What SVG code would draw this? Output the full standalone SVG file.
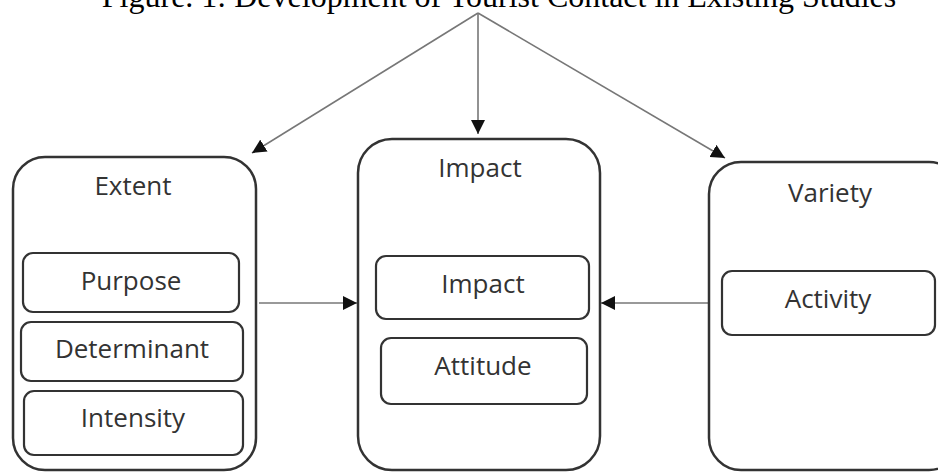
<svg xmlns="http://www.w3.org/2000/svg" width="938" height="472" viewBox="0 0 938 472">
<style>
.box{fill:#fff;stroke:#333;stroke-width:2.5}
.inner{fill:#fff;stroke:#333;stroke-width:2.2}
.lbl{font-family:"Open Sans","Noto Sans",sans-serif;font-size:26px;fill:#333;text-anchor:middle}
.title{font-family:"Liberation Serif",serif;font-size:32px;fill:#000;text-anchor:middle}
.conn{stroke:#777;stroke-width:1.6;fill:none}
</style>
<defs>
<marker id="ah" viewBox="0 0 10 10" refX="10" refY="5" markerWidth="14" markerHeight="14" markerUnits="userSpaceOnUse" orient="auto">
<path d="M0,0 L10,5 L0,10 z" fill="#111"/>
</marker>
</defs>
<rect width="938" height="472" fill="#fff"/>
<text class="title" x="499" y="7">Figure. 1: Development of Tourist Contact in Existing Studies</text>
<g id="connectors">
<line class="conn" x1="478" y1="13" x2="252" y2="153" marker-end="url(#ah)"/>
<line class="conn" x1="478" y1="13" x2="478" y2="134" marker-end="url(#ah)"/>
<line class="conn" x1="478" y1="13" x2="725" y2="158" marker-end="url(#ah)"/>
<line class="conn" x1="259" y1="303" x2="357" y2="303" marker-end="url(#ah)"/>
<line class="conn" x1="709" y1="303" x2="601" y2="303" marker-end="url(#ah)"/>
</g>
<g id="extent">
<rect class="box" x="13" y="157" width="243" height="313" rx="32"/>
<text class="lbl" x="133" y="195">Extent</text>
</g>
<g id="purpose">
<rect class="inner" x="23" y="253" width="216" height="59" rx="10"/>
<text class="lbl" x="131" y="290">Purpose</text>
</g>
<g id="determinant">
<rect class="inner" x="21" y="322" width="222" height="59" rx="10"/>
<text class="lbl" x="132" y="358">Determinant</text>
</g>
<g id="intensity">
<rect class="inner" x="24" y="391" width="219" height="64" rx="10"/>
<text class="lbl" x="133" y="427">Intensity</text>
</g>
<g id="impact">
<rect class="box" x="358" y="139" width="242" height="331" rx="34"/>
<text class="lbl" x="480" y="177">Impact</text>
</g>
<g id="impact-inner">
<rect class="inner" x="376" y="256" width="213" height="63" rx="10"/>
<text class="lbl" x="483" y="293">Impact</text>
</g>
<g id="attitude">
<rect class="inner" x="381" y="338" width="206" height="66" rx="10"/>
<text class="lbl" x="483" y="375">Attitude</text>
</g>
<g id="variety">
<rect class="box" x="709" y="162" width="252" height="308" rx="32"/>
<text class="lbl" x="830" y="202">Variety</text>
</g>
<g id="activity">
<rect class="inner" x="722" y="271" width="213" height="64" rx="10"/>
<text class="lbl" x="828" y="308">Activity</text>
</g>
</svg>
